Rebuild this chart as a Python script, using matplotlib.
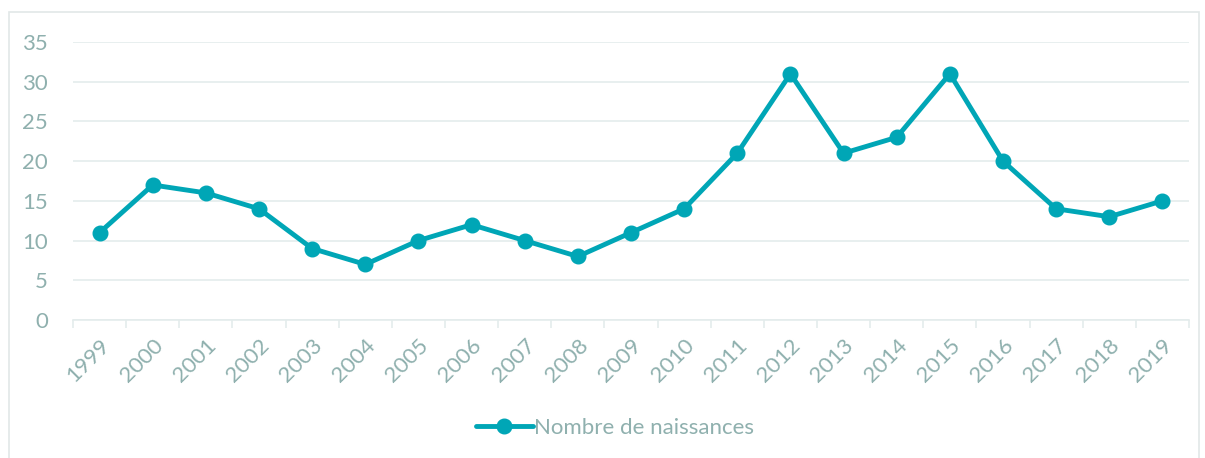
import numpy as np
import matplotlib.pyplot as plt
from matplotlib.patches import Rectangle

years = [str(y) for y in range(1999, 2020)]
naissances = [11, 17, 16, 14, 9, 7, 10, 12, 10, 8, 11, 14, 21, 31, 21, 23, 31, 20, 14, 13, 15]
serie = 'Nombre de naissances'

teal = '#00A6B6'
txt = '#8FB0AE'
grid = '#E4ECEC'

plt.rcParams['font.family'] = ['Lato', 'DejaVu Sans']

fig = plt.figure(figsize=(12.05, 4.58), dpi=100)
fig.patches.append(Rectangle((9/1205, -0.05), 1190/1205, 1 - 12/458 + 0.05,
                             transform=fig.transFigure, fill=False,
                             edgecolor='#E2E8E8', lw=1.2))
ax = fig.add_axes([73/1205, 1 - 320/458, (1189 - 73)/1205, (320 - 42)/458])

x = np.arange(len(years))
ax.plot(x, naissances, color=teal, lw=3.5, marker='o', markersize=10.5,
        solid_capstyle='round', label=serie, zorder=3)

ax.set_ylim(0, 35)
ax.set_yticks(range(0, 36, 5))
ax.set_xlim(-0.5, len(years) - 0.5)
ax.set_xticks(x)
ax.set_xticklabels(years, rotation=45, ha='right', rotation_mode='anchor')
ax.set_xticks(np.arange(-0.5, len(years)), minor=True)
ax.tick_params(axis='x', which='major', length=0, pad=11, labelsize=16, labelcolor=txt)
ax.tick_params(axis='x', which='minor', length=6, color=grid, width=1.2)
ax.tick_params(axis='y', length=0, pad=18, labelsize=16, labelcolor=txt)

ax.grid(axis='y', color=grid, lw=1.2)
ax.set_axisbelow(True)
for s in ['top', 'right', 'left']:
    ax.spines[s].set_visible(False)
ax.spines['bottom'].set_color(grid)
ax.spines['bottom'].set_linewidth(1.2)

leg = fig.legend(loc='center', bbox_to_anchor=(615/1205, 1 - 428/458), frameon=False,
                 fontsize=16, handlelength=2.6, handletextpad=0.05)
for t in leg.get_texts():
    t.set_color(txt)

fig.savefig('out.png', dpi=100)
